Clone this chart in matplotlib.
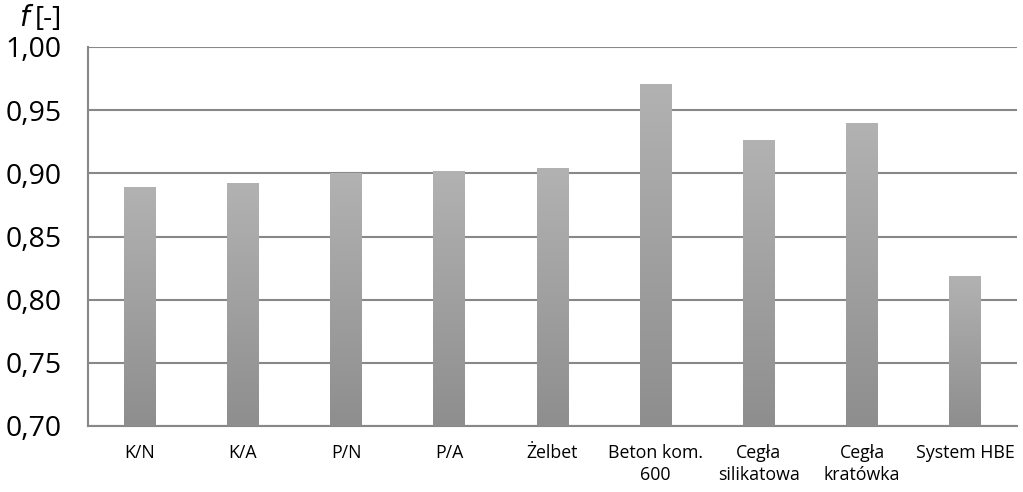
import numpy as np
import matplotlib
matplotlib.use('Agg')
import matplotlib.pyplot as plt
from matplotlib.ticker import FixedLocator, FuncFormatter

# --- Data ---
categories = ['K/N', 'K/A', 'P/N', 'P/A', 'Żelbet', 'Beton kom.\n600',
              'Cegła\nsilikatowa', 'Cegła\nkratówka', 'System HBE']
values = [0.889, 0.892, 0.900, 0.902, 0.904, 0.971, 0.926, 0.940, 0.819]
yticks = [0.70, 0.75, 0.80, 0.85, 0.90, 0.95, 1.00]

plt.rcParams['font.family'] = ['Open Sans', 'DejaVu Sans']

fig = plt.figure(figsize=(10.23, 4.92), dpi=100)
ax = fig.add_axes([88 / 1023, 1 - 426 / 492, 929 / 1023, 379 / 492])

x = np.arange(len(categories))
bars = ax.bar(x, values, width=0.31, bottom=0, color='none', zorder=3)

# vertical grey gradient on each bar (lighter on top)
grad = np.linspace(0, 1, 256).reshape(-1, 1)
cmap = matplotlib.colors.LinearSegmentedColormap.from_list('g', ['#8e8e8e', '#b2b2b2'])
for b in bars:
    x0, w, h = b.get_x(), b.get_width(), b.get_height()
    im = ax.imshow(grad, cmap=cmap, aspect='auto', origin='lower',
                   extent=(x0, x0 + w, 0.70, h), zorder=3)
    im.set_clip_path(b)

ax.set_xlim(-0.5, len(categories) - 0.5)
ax.set_ylim(0.70, 1.00)
ax.yaxis.set_major_locator(FixedLocator(yticks))
ax.yaxis.set_major_formatter(FuncFormatter(lambda v, p: f'{v:.2f}'.replace('.', ',')))
ax.set_xticks(x)
ax.set_xticklabels(categories, fontsize=12.8, linespacing=1.3)
ax.tick_params(axis='y', labelsize=20.5, length=0, pad=19)
ax.tick_params(axis='x', length=0, pad=13)

ax.grid(axis='y', color='#888888', linewidth=1.5, zorder=1)
for s in ['top', 'right']:
    ax.spines[s].set_visible(False)
for s in ['left', 'bottom']:
    ax.spines[s].set_color('#888888')
    ax.spines[s].set_linewidth(1.5)

fig.text(19 / 1023, 1 - 19 / 492, r'$f$', fontsize=20, va='center', ha='left')
fig.text(35 / 1023, 1 - 19 / 492, '[-]', fontsize=20, va='center', ha='left')

fig.savefig('out.png', dpi=100)
